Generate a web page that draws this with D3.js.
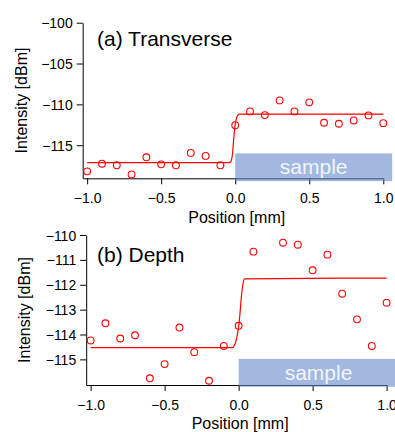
<!DOCTYPE html>
<html>
<head>
<meta charset="utf-8">
<script src="https://cdn.jsdelivr.net/npm/d3@7"></script>
<style>
  html, body { margin: 0; padding: 0; background: #fff; }
  svg { display: block; font-family: "Liberation Sans", Arial, sans-serif; }
</style>
</head>
<body>
<svg id="chart" width="395" height="432"></svg>
<script>
// ---------- data ----------
const positionsA = [-1.0, -0.9, -0.8, -0.7, -0.6, -0.5, -0.4, -0.3, -0.2, -0.1, 0.0,
                    0.1, 0.2, 0.3, 0.4, 0.5, 0.6, 0.7, 0.8, 0.9, 1.0];
const transverse = [-118.2, -117.26, -117.46, -118.57, -116.48, -117.34, -117.46, -115.94, -116.31, -117.46, -112.55,
                    -110.86, -111.31, -109.51, -110.86, -109.75, -112.25, -112.37, -111.97, -111.35, -112.30];

const fitAx = [-1.0, -0.04, -0.03, -0.02, -0.01, 0.0, 0.01, 0.02, 0.03, 1.0];
const fitAy = [-117.13, -117.13, -117.0, -116.3, -114.2, -112.4, -111.6, -111.3, -111.2, -111.19];

const positionsB = [-1.0, -0.9, -0.8, -0.7, -0.6, -0.5, -0.4, -0.3, -0.2, -0.1, 0.0,
                    0.1, 0.3, 0.4, 0.5, 0.6, 0.7, 0.8, 0.9, 1.0];
const depth = [-114.24, -113.55, -114.16, -114.03, -115.76, -115.19, -113.72, -114.71, -115.86, -114.46, -113.65,
               -110.67, -110.31, -110.39, -111.42, -110.79, -112.36, -113.39, -114.46, -112.72];

const fitBx = [-1.0, -0.04, -0.03, -0.02, -0.01, 0.0, 0.01, 0.02, 0.03, 0.04, 1.0];
const fitBy = [-114.53, -114.53, -114.45, -114.3, -114.05, -113.7, -113.1, -112.4, -111.95, -111.76, -111.73];

const xTicks = [-1.0, -0.5, 0.0, 0.5, 1.0];
const yTicksA = [-100, -105, -110, -115];
const yTicksB = [-110, -111, -112, -113, -114, -115];

// sample region extents (data units)
const sampleA = { x0: 0.0, x1: 1.06, y0: -119.4, y1: -116.0 };
const sampleB = { x0: 0.0, x1: 1.08, y0: -116.1, y1: -114.98 };

const svg = d3.select("#chart");
const RED = "#ff0000";

function panel(cfg) {
  const x = d3.scaleLinear().domain([-1.03, 1.0]).range(cfg.xRange);
  const y = d3.scaleLinear().domain(cfg.yDomain).range(cfg.yRange);
  const g = svg.append("g");

  // axes
  const xAxis = d3.axisBottom(x).tickValues(xTicks).tickFormat(d3.format(".1f"))
    .tickSize(6).tickPadding(9).tickSizeOuter(0);
  const yAxis = d3.axisLeft(y).tickValues(cfg.yTicks).tickFormat(d3.format("d"))
    .tickSize(6).tickPadding(4).tickSizeOuter(0);

  const gx = g.append("g").attr("transform", `translate(0,${cfg.yRange[0]})`).call(xAxis);
  const gy = g.append("g").attr("transform", `translate(${cfg.xRange[0]},0)`).call(yAxis);
  [gx, gy].forEach(a => {
    a.selectAll("path, line").attr("stroke", "#000").attr("stroke-width", 1);
    a.selectAll("text").attr("font-size", 14).attr("fill", "#000")
      .attr("font-family", "'Liberation Sans', Arial, sans-serif");
  });
  gy.selectAll("text").attr("dy", "0.36em");

  // fit line
  const line = d3.line().x((d, i) => x(cfg.fitX[i])).y(d => y(d)).curve(d3.curveMonotoneX);
  g.append("path").datum(cfg.fitY).attr("d", line)
    .attr("fill", "none").attr("stroke", RED).attr("stroke-width", 1.2);

  // points
  g.selectAll("circle.pt").data(cfg.vals).enter().append("circle")
    .attr("class", "pt")
    .attr("cx", (d, i) => x(cfg.pos[i])).attr("cy", d => y(d)).attr("r", 3.4)
    .attr("fill", "none").attr("stroke", RED).attr("stroke-width", 1.1);

  // sample rectangle
  const s = cfg.sample;
  g.append("rect")
    .attr("x", x(s.x0)).attr("y", y(s.y1))
    .attr("width", x(s.x1) - x(s.x0)).attr("height", y(s.y0) - y(s.y1))
    .attr("fill", "rgb(100,137,203)").attr("fill-opacity", 0.6);
  g.append("text")
    .attr("x", (x(s.x0) + x(s.x1)) / 2).attr("y", cfg.sampleBaseline)
    .attr("text-anchor", "middle").attr("font-size", 21)
    .attr("fill", "#f2f5fb").text("sample");

  // title
  g.append("text").attr("x", 97).attr("y", cfg.titleBaseline)
    .attr("font-size", 21).attr("fill", "#000").text(cfg.title);

  // axis labels
  g.append("text")
    .attr("transform", `translate(${cfg.yLabelX},${(cfg.yRange[0] + cfg.yRange[1]) / 2}) rotate(-90)`)
    .attr("text-anchor", "middle").attr("font-size", 16).attr("fill", "#000")
    .text("Intensity [dBm]");
  g.append("text")
    .attr("x", x(0) + 1.5).attr("y", cfg.xLabelBaseline)
    .attr("text-anchor", "middle").attr("font-size", 16).attr("fill", "#000")
    .text("Position [mm]");
}

panel({
  xRange: [82.7, 383.3], yDomain: [-119.05, -100], yRange: [178.3, 22.7],
  yTicks: yTicksA, pos: positionsA, vals: transverse, fitX: fitAx, fitY: fitAy,
  sample: sampleA, sampleBaseline: 173.5, title: "(a) Transverse", titleBaseline: 45.7,
  yLabelX: 26.5, xLabelBaseline: 223
});

panel({
  xRange: [86.2, 386.6], yDomain: [-116.03, -110], yRange: [385, 235],
  yTicks: yTicksB, pos: positionsB, vals: depth, fitX: fitBx, fitY: fitBy,
  sample: sampleB, sampleBaseline: 380, title: "(b) Depth", titleBaseline: 262.3,
  yLabelX: 29.5, xLabelBaseline: 429
});
</script>
</body>
</html>
